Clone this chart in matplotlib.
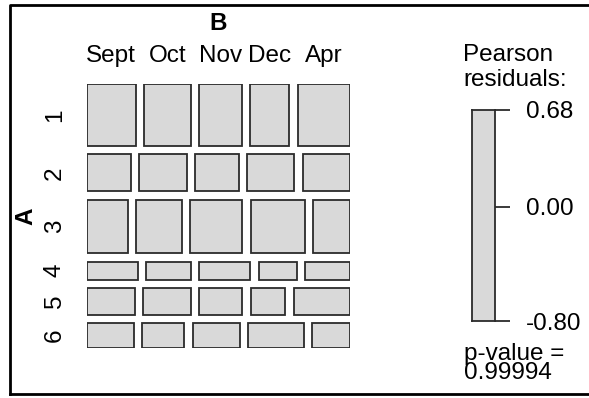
import matplotlib
matplotlib.use('Agg')
import matplotlib.pyplot as plt
from matplotlib import patches
import numpy as np

plt.rcParams['font.family'] = ['Liberation Sans', 'DejaVu Sans']

# data: rows of A by columns of B (counts)
a_levels = ['1', '2', '3', '4', '5', '6']
b_levels = ['Sept', 'Oct', 'Nov', 'Dec', 'Apr']
counts = np.array([
	[26, 25, 23, 21, 28],
	[14, 15, 14, 15, 15],
	[19, 21, 24, 25, 17],
	[8, 7, 8, 6, 7],
	[11, 11, 10, 8, 13],
	[10, 9, 10, 12, 8],
])
legend_ticks = [0.68, 0.00, -0.80]
p_value = '0.99994'

W, H = 589, 398
FS = 17.5
box_face = '#d9d9d9'
box_edge = '#2b2b2b'

fig = plt.figure(figsize=(W / 100, H / 100), dpi=100)

def px_axes(x0, y0, x1, y1):
	# axes from pixel box (top-left origin)
	return fig.add_axes([x0 / W, 1 - y1 / H, (x1 - x0) / W, (y1 - y0) / H])

# outer frame
frame = fig.add_axes([0, 0, 1, 1])
frame.set_xlim(0, W)
frame.set_ylim(H, 0)
frame.axis('off')
frame.plot([10, 10, W + 5], [394, 5, 5], color='black', lw=2, clip_on=False)
frame.plot([10, W + 5], [394, 394], color='black', lw=2, clip_on=False)

# mosaic
ax = px_axes(87, 84, 350, 348)
ax.set_xlim(0, 1)
ax.set_ylim(1, 0)
ax.axis('off')
gx = 8.3 / 263
gy = 8.4 / 264
nrow, ncol = counts.shape
row_tot = counts.sum(axis=1)
heights = (1 - (nrow - 1) * gy) * row_tot / row_tot.sum()
y = 0
for i in range(nrow):
	widths = (1 - (ncol - 1) * gx) * counts[i] / row_tot[i]
	x = 0
	for j in range(ncol):
		ax.add_patch(patches.Rectangle((x, y), widths[j], heights[i], facecolor=box_face,
									   edgecolor=box_edge, linewidth=1.3))
		if i == 0:
			ax.text(x + widths[j] / 2, -28 / 264, b_levels[j], ha='center', va='center',
					fontsize=FS, clip_on=False)
		x += widths[j] + gx
	ax.text(-32 / 263, y + heights[i] / 2, a_levels[i], ha='center', va='center',
			rotation=90, fontsize=FS, clip_on=False)
	y += heights[i] + gy
ax.text(0.5, -61 / 264, 'B', ha='center', va='center', fontsize=FS, fontweight='bold')
ax.text(-61 / 263, 0.5, 'A', ha='center', va='center', rotation=90, fontsize=FS,
		fontweight='bold')

# legend
lg = px_axes(472, 110, 495, 321)
lg.set_facecolor(box_face)
lg.set_xlim(0, 1)
lg.set_ylim(min(legend_ticks), max(legend_ticks))
for s in lg.spines.values():
	s.set_color(box_edge)
	s.set_linewidth(1.3)
lg.set_xticks([])
lg.yaxis.tick_right()
lg.set_yticks(legend_ticks)
lg.set_yticklabels(['%.2f' % v for v in legend_ticks], fontsize=FS)
lg.tick_params(axis='y', length=11, width=1.3, color=box_edge, pad=11)
fig.text(463 / W, 1 - 44 / H, 'Pearson\nresiduals:', ha='left', va='top', fontsize=FS,
		 linespacing=1.2)
fig.text(464 / W, 1 - 343 / H, 'p-value =\n' + p_value, ha='left', va='top', fontsize=FS,
		 linespacing=0.82)

fig.savefig('out.png', dpi=100)
